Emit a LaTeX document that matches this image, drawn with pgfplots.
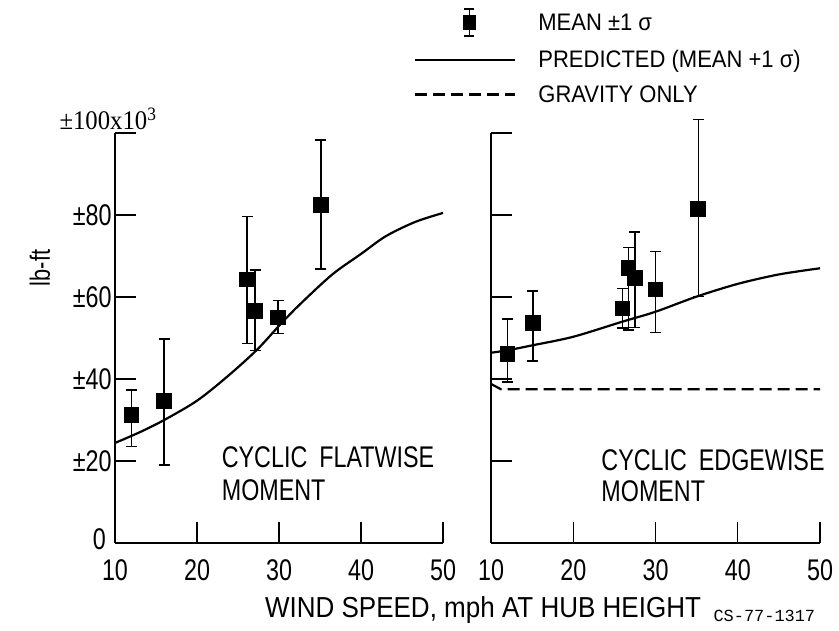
\documentclass[border=0pt]{standalone}
\usepackage{fontspec}
\setmainfont{Liberation Sans}[FakeStretch=0.78]
\newfontfamily\wfont{Liberation Sans}[FakeStretch=0.92]
\newfontfamily\xfont{Liberation Sans}[FakeStretch=0.9]
\newfontfamily\serifnum{Liberation Serif}[FakeStretch=0.92]
\newfontfamily\monofont{Liberation Mono}
\usepackage{pgfplots}
\usepackage{pgfplotstable}
\pgfplotsset{compat=1.18}

\pgfplotstableread{
x y ep em
12 31.2 6.1 7.7
16 34.6 15.1 15.6
26.1 64.3 15.3 15.6
27.1 56.6 10.0 9.7
29.9 55.0 4.1 3.9
35.1 82.4 15.9 15.6
}\leftdata

\pgfplotstableread{
x y ep em
12 46.1 8.5 6.8
15.1 53.6 7.9 9.2
26.0 57.2 4.9 4.8
26.7 67.0 5.1 15.0
27.5 64.6 11.3 12.0
30.0 61.8 9.3 10.4
35.2 81.4 21.9 21.3
}\rightdata

\pgfplotstableread{
x y
10 24.4
13 27.0
16 30.0
20 34.7
23.7 40.6
27.3 47.1
30.2 53.4
32.6 58.3
36.5 65.5
40 70.5
43 74.8
46.6 78.3
50 80.5
}\leftcurve

\pgfplotstableread{
x y
10 46.4
12 47.0
15 48.2
20 50.3
26 54.0
30 56.4
35 60.1
40 63.2
45 65.5
50 67.0
}\rightcurve

\pgfplotstableread{
x y
10 38.8
11.2 37.5
50 37.5
}\gravity

\begin{document}
\begin{tikzpicture}[x=1bp,y=1bp]
\useasboundingbox (0,0) rectangle (839,631);
\pgfplotsset{
 panel/.style={
  scale only axis, height=410bp,
  xmin=10,xmax=50,ymin=0,ymax=100,
  axis lines*=left, axis line style={line width=1.4bp},
  tick align=inside, major tick length=21bp,
  tick style={line width=1.4bp, black},
  xtick={10,20,30,40,50}, xticklabels={10,20,30,40,50},
  ytick={0,20,40,60,80,100},
  clip=false,
  xticklabel style={font=\fontsize{30}{32}\selectfont, yshift=-13bp},
  yticklabel style={font=\fontsize{30}{32}\selectfont},
 },
 errpl/.style={black, only marks, mark=square*, mark size=7.3bp,
   mark options={line width=0pt, fill=black},
   error bars/y dir=both, error bars/y explicit,
   error bars/error bar style={line width=1.5bp},
   error bars/error mark options={rotate=90, mark size=5.5bp, line width=1.5bp}},
 curve/.style={black, line width=2.2bp, smooth, no markers},
}

% left panel
\begin{axis}[panel, width=328bp, at={(115bp,88bp)}, anchor=south west,
  ytick={20,40,60,80,100},
  yticklabels={±20,±40,±60,±80,{}}]
\addplot[errpl] table[x=x,y=y,y error plus=ep,y error minus=em]{\leftdata};
\addplot[curve] table{\leftcurve};
\node[anchor=base west, font=\fontsize{30}{32}\selectfont] at (axis cs:22.6,18.3) {CYCLIC\hspace{12bp}FLATWISE};
\node[anchor=base west, font=\fontsize{30}{32}\selectfont] at (axis cs:22.6,10.3) {MOMENT};
\node[anchor=base east, font=\fontsize{30}{32}\selectfont, inner sep=0pt] at (axis cs:8.9,-1.5) {0};
\end{axis}

% right panel
\begin{axis}[panel, width=329bp, at={(491bp,88bp)}, anchor=south west,
  yticklabels={},
  legend style={at={(rel axis cs:-0.234,1.305)}, anchor=north west,
    draw=none, fill=none, inner sep=0pt,
    font=\wfont\fontsize{24}{26}\selectfont, row sep=12bp,
    /tikz/every odd column/.append style={column sep=20bp}},
  legend cell align=left]
\addplot[errpl, legend image code/.code={
   \draw[line width=1.5bp] (54bp,-13bp)--(54bp,14bp) (49bp,14bp)--(59bp,14bp) (49bp,-13bp)--(59bp,-13bp);
   \fill (48bp,-6bp) rectangle (60bp,8bp);}]
  table[x=x,y=y,y error plus=ep,y error minus=em]{\rightdata};
\addlegendentry{MEAN ±1 σ}
\addplot[curve, legend image code/.code={\draw[black,line width=2.2bp] (0bp,0bp)--(100bp,0bp);}] table{\rightcurve};
\addlegendentry{PREDICTED (MEAN +1 σ)}
\addplot[black, line width=2.2bp, dash pattern=on 12bp off 6bp, no markers,
  legend image code/.code={\draw[black,line width=2.2bp,dash pattern=on 12bp off 6bp] (0bp,0bp)--(100bp,0bp);}] table{\gravity};
\addlegendentry{GRAVITY ONLY}
\node[anchor=base west, font=\fontsize{30}{32}\selectfont] at (axis cs:23.0,17.6) {CYCLIC\hspace{12bp}EDGEWISE};
\node[anchor=base west, font=\fontsize{30}{32}\selectfont] at (axis cs:23.0,10.1) {MOMENT};
\end{axis}

\node[anchor=base west, font=\serifnum\fontsize{27}{29}\selectfont] at (56,501) {±100x10\raisebox{9bp}{\fontsize{19}{21}\selectfont 3}};
\node[rotate=90, font=\fontsize{28}{30}\selectfont] at (40,363) {lb-ft};
\node[anchor=base, font=\xfont\fontsize{29}{31}\selectfont] at (483,13) {WIND SPEED, mph AT HUB HEIGHT};
\node[anchor=base west, font=\monofont\fontsize{17}{19}\selectfont] at (710,9) {CS-77-1317};
\end{tikzpicture}
\end{document}
